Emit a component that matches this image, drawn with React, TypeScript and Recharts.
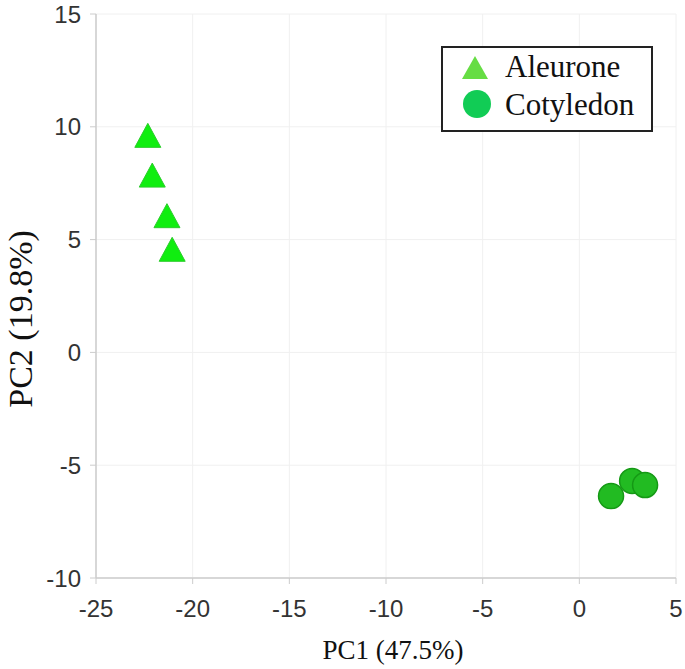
import React from 'react';
import { ScatterChart, Scatter, XAxis, YAxis, CartesianGrid, Legend } from 'recharts';

const seriesNames = ['Aleurone', 'Cotyledon'];
const aleuronePC1 = [-22.32, -22.09, -21.33, -21.06];
const aleuronePC2 = [9.62, 7.86, 6.06, 4.57];
const cotyledonPC1 = [1.64, 2.73, 3.4];
const cotyledonPC2 = [-6.37, -5.7, -5.88];
const xTicks = [-25, -20, -15, -10, -5, 0, 5];
const yTicks = [-10, -5, 0, 5, 10, 15];
const xTitle = 'PC1 (47.5%)';
const yTitle = 'PC2 (19.8%)';

const aleurone = aleuronePC1.map((x, i) => ({ x, y: aleuronePC2[i] }));
const cotyledon = cotyledonPC1.map((x, i) => ({ x, y: cotyledonPC2[i] }));

const SERIF = '"Liberation Serif", "Times New Roman", serif';
const SANS = '"Liberation Sans", Arial, sans-serif';

const TriangleShape = (props: any) => {
  const { cx, cy } = props;
  const w = 26;
  const h = 24;
  return (
    <polygon
      points={`${cx},${cy - h / 2} ${cx + w / 2},${cy + h / 2} ${cx - w / 2},${cy + h / 2}`}
      fill="#10ee10"
      stroke="#2ccc2c"
      strokeWidth={1}
    />
  );
};

const CircleShape = (props: any) => {
  const { cx, cy } = props;
  return <circle cx={cx} cy={cy} r={12.5} fill="#22bb22" stroke="#159915" strokeWidth={1.5} />;
};

const LegendBox = () => (
  <svg width={212} height={86} style={{ display: 'block' }}>
    <rect x={1} y={1} width={210} height={84} fill="#fff" stroke="#222" strokeWidth={2} />
    <polygon points="34,10 47,33 21,33" fill="#66dd44" />
    <circle cx={36} cy={58} r={14} fill="#11cc55" />
    <text x={64} y={31} fontFamily={SERIF} fontSize={31} fill="#111">{seriesNames[0]}</text>
    <text x={64} y={69} fontFamily={SERIF} fontSize={31} fill="#111">{seriesNames[1]}</text>
  </svg>
);

const XTitle = (props: any) => {
  const vb = props.viewBox || { x: 96, y: 578, width: 580, height: 91 };
  return (
    <text x={vb.x + vb.width / 2 + 7} y={vb.y + 81} textAnchor="middle" fontFamily={SERIF} fontSize={27} fill="#111">
      {xTitle}
    </text>
  );
};

const YTitle = (props: any) => {
  const vb = props.viewBox || { x: 0, y: 14, width: 96, height: 564 };
  const cx = vb.x + 32;
  const cy = vb.y + vb.height / 2 + 23;
  return (
    <text x={cx} y={cy} transform={`rotate(-90 ${cx} ${cy})`} textAnchor="middle" fontFamily={SERIF} fontSize={34} fill="#111">
      {yTitle}
    </text>
  );
};

export default function App() {
  return (
    <div style={{ position: 'absolute', left: 0, top: 0, background: '#fff' }}>
      <ScatterChart width={685} height={669} margin={{ top: 14, right: 9, bottom: 0, left: 0 }}>
        <CartesianGrid stroke="#f0f0f0" strokeWidth={1} />
        <XAxis
          type="number"
          dataKey="x"
          domain={[-25, 5]}
          ticks={xTicks}
          height={91}
          axisLine={{ stroke: '#cccccc', strokeWidth: 1.5 }}
          tickLine={{ stroke: '#cccccc' }}
          tickSize={6}
          tickMargin={16}
          tick={{ fill: '#333', fontSize: 24, fontFamily: SANS }}
          label={{ content: XTitle }}
        />
        <YAxis
          type="number"
          dataKey="y"
          domain={[-10, 15]}
          ticks={yTicks}
          width={96}
          axisLine={{ stroke: '#cccccc', strokeWidth: 1.5 }}
          tickLine={{ stroke: '#cccccc' }}
          tickSize={6}
          tickMargin={9}
          tick={{ fill: '#333', fontSize: 24, fontFamily: SANS }}
          label={{ content: YTitle }}
        />
        <Legend
          layout="horizontal"
          verticalAlign="middle"
          align="center"
          content={LegendBox}
          wrapperStyle={{ left: 441, top: 46, width: 212, height: 86 }}
        />
        <Scatter name={seriesNames[0]} data={aleurone} shape={TriangleShape} isAnimationActive={false} />
        <Scatter name={seriesNames[1]} data={cotyledon} shape={CircleShape} isAnimationActive={false} />
      </ScatterChart>
    </div>
  );
}
